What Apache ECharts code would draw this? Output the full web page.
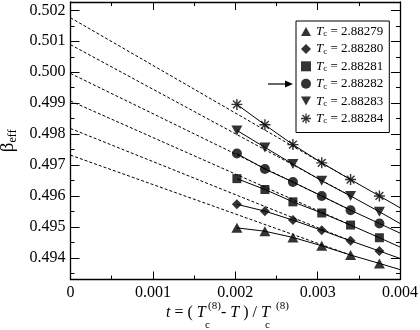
<!DOCTYPE html>
<html>
<head>
<meta charset="utf-8">
<script src="https://cdn.jsdelivr.net/npm/echarts@6/dist/echarts.min.js"></script>
<style>
  html, body { margin: 0; padding: 0; background: #fff; }
  #chart { width: 420px; height: 330px; }
</style>
</head>
<body>
<div id="chart"></div>
<script>
const tValues = [0.00202, 0.00236, 0.00270, 0.00305, 0.00340, 0.00375];
const tcLabels = ["2.88279", "2.88280", "2.88281", "2.88282", "2.88283", "2.88284"];

const beta279 = [0.49497, 0.49486, 0.49466, 0.49439, 0.49409, 0.49382];
const beta280 = [0.49573, 0.49551, 0.49522, 0.49489, 0.49455, 0.49422];
const beta281 = [0.49656, 0.49621, 0.49581, 0.49545, 0.49506, 0.49465];
const beta282 = [0.49737, 0.49687, 0.49645, 0.49600, 0.49554, 0.49511];
const beta283 = [0.49812, 0.49757, 0.49703, 0.49649, 0.49600, 0.49549];
const beta284 = [0.49896, 0.49830, 0.49766, 0.49707, 0.49653, 0.49600];

// where the solid curves leave the frame (t = 0.004)
const edgeBeta = [0.49362, 0.49398, 0.49435, 0.49480, 0.49511, 0.49562];
// dashed linear extrapolations: value at t = 0, and end point
const interceptBeta = [0.49732, 0.49818, 0.49907, 0.49996, 0.50089, 0.50176];
const dashEndT = 0.00340;

const betaSets = [beta279, beta280, beta281, beta282, beta283, beta284];

const ASTERISK = "path://M0 8.7L20 8.7L20 11.3L0 11.3Z M8.7 0L11.3 0L11.3 20L8.7 20Z " +
  "M3.85 2.01L17.99 16.15L16.15 17.99L2.01 3.85Z M17.99 3.85L3.85 17.99L2.01 16.15L16.15 2.01Z";
const TRI_DOWN = "path://M0 0L20 0L10 18Z";
const TRI_UP = "path://M10 0L20 18L0 18Z";
const SYMBOLS = [
  { symbol: TRI_UP, size: [11, 10] },
  { symbol: "diamond", size: 10 },
  { symbol: "rect", size: 9 },
  { symbol: "circle", size: 10 },
  { symbol: TRI_DOWN, size: [11, 10] },
  { symbol: ASTERISK, size: 11 }
];

const SERIF = "Liberation Serif, DejaVu Serif, serif";
const chart = echarts.init(document.getElementById("chart"));

const series = [];
betaSets.forEach((vals, i) => {
  const solid = tValues.map((t, k) => [t, vals[k]]);
  solid.push([0.004, edgeBeta[i]]);
  series.push({
    type: "line",
    data: solid,
    symbol: "none",
    silent: true,
    lineStyle: { color: "#000", width: 1 },
    z: 2
  });
  series.push({
    type: "line",
    data: [[0, interceptBeta[i]], [dashEndT, vals[4]]],
    symbol: "none",
    silent: true,
    lineStyle: { color: "#000", width: 1, type: [3, 2] },
    z: 2
  });
  series.push({
    name: tcLabels[i],
    type: "scatter",
    data: tValues.map((t, k) => [t, vals[k]]),
    symbol: SYMBOLS[i].symbol,
    symbolSize: SYMBOLS[i].size,
    itemStyle: { color: "#000" },
    z: 3
  });
});

const tickStyle = { color: "#000", width: 1 };

function xAxisCfg(pos, labels) {
  return {
    type: "value",
    position: pos,
    min: 0,
    max: 0.004,
    interval: 0.001,
    axisLine: { show: true, onZero: false, lineStyle: { color: "#000", width: 1.3 } },
    axisTick: { show: true, inside: true, length: 8, lineStyle: tickStyle },
    minorTick: { show: true, splitNumber: 2, length: 4, lineStyle: tickStyle },
    splitLine: { show: false },
    axisLabel: {
      show: labels,
      margin: 5,
      fontFamily: SERIF,
      fontSize: 16,
      color: "#000",
      formatter: v => (v === 0 ? "0" : v.toFixed(3))
    }
  };
}

function yAxisCfg(pos, labels) {
  return {
    type: "value",
    position: pos,
    min: 0.4933,
    max: 0.50227,
    splitNumber: 8,
    axisLine: { show: true, onZero: false, lineStyle: { color: "#000", width: 1.3 } },
    axisTick: { show: true, inside: true, length: 9, lineStyle: tickStyle },
    minorTick: { show: true, splitNumber: 2, length: 4, lineStyle: tickStyle },
    splitLine: { show: false },
    axisLabel: {
      show: labels,
      margin: 5,
      fontFamily: SERIF,
      fontSize: 16,
      color: "#000",
      showMinLabel: false,
      showMaxLabel: false,
      formatter: v => v.toFixed(3)
    }
  };
}

const yLeft = yAxisCfg("left", true);
yLeft.name = "{b|β}{s|eff}";
yLeft.nameLocation = "middle";
yLeft.nameRotate = 90;
yLeft.nameGap = 50;
yLeft.nameTextStyle = {
  rich: {
    b: { fontFamily: SERIF, fontSize: 19, color: "#000", lineHeight: 22 },
    s: { fontFamily: SERIF, fontSize: 12, color: "#000", verticalAlign: "bottom", lineHeight: 12 }
  }
};

const richTc = {
  t: { fontFamily: SERIF, fontStyle: "italic", fontSize: 13, color: "#000", lineHeight: 14 },
  c: { fontFamily: SERIF, fontSize: 9, color: "#000", verticalAlign: "bottom", lineHeight: 9 },
  n: { fontFamily: SERIF, fontSize: 13, color: "#000", lineHeight: 14 }
};

const italic = { fontStyle: "italic", fontFamily: SERIF, fontSize: 16 };
const titleFont = { fontFamily: SERIF, fontSize: 16, fill: "#000" };
const small = { fontFamily: SERIF, fontSize: 11, fill: "#000" };

chart.setOption({
  backgroundColor: "#fff",
  animation: false,
  grid: { left: 70.5, right: 20, top: 2, bottom: 50.5, containLabel: false, outerBoundsMode: "none" },
  xAxis: [xAxisCfg("bottom", true), xAxisCfg("top", false)],
  yAxis: [yLeft, yAxisCfg("right", false)],
  legend: {
    orient: "vertical",
    left: 296,
    top: 21,
    padding: [4, 6, 7, 5],
    itemGap: 3.9,
    itemWidth: 10,
    itemHeight: 10,
    backgroundColor: "#fff",
    borderColor: "#000",
    borderWidth: 1,
    borderRadius: 0,
    data: tcLabels,
    formatter: name => `{t|T}{c|c}{n| = ${name}}`,
    textStyle: { fontFamily: SERIF, rich: richTc }
  },
  graphic: [
    { type: "line", shape: { x1: 268, y1: 84, x2: 287, y2: 84 }, style: { stroke: "#000", lineWidth: 1.2 } },
    { type: "polygon", shape: { points: [[293, 84], [285, 80.5], [285, 87.5]] }, style: { fill: "#000" } },
    { type: "text", x: 166, y: 313, style: Object.assign({ text: "{i|t} = ( {i|T}", textVerticalAlign: "middle", rich: { i: italic } }, titleFont) },
    { type: "text", x: 208, y: 306, style: Object.assign({ text: "(8)", textVerticalAlign: "middle" }, small) },
    { type: "text", x: 205, y: 325, style: Object.assign({ text: "c", textVerticalAlign: "middle" }, small) },
    { type: "text", x: 221, y: 313, style: Object.assign({ text: "- {i|T} ) / {i|T}", textVerticalAlign: "middle", rich: { i: italic } }, titleFont) },
    { type: "text", x: 276, y: 306, style: Object.assign({ text: "(8)", textVerticalAlign: "middle" }, small) },
    { type: "text", x: 265, y: 325, style: Object.assign({ text: "c", textVerticalAlign: "middle" }, small) }
  ],
  series: series
});
</script>
</body>
</html>
